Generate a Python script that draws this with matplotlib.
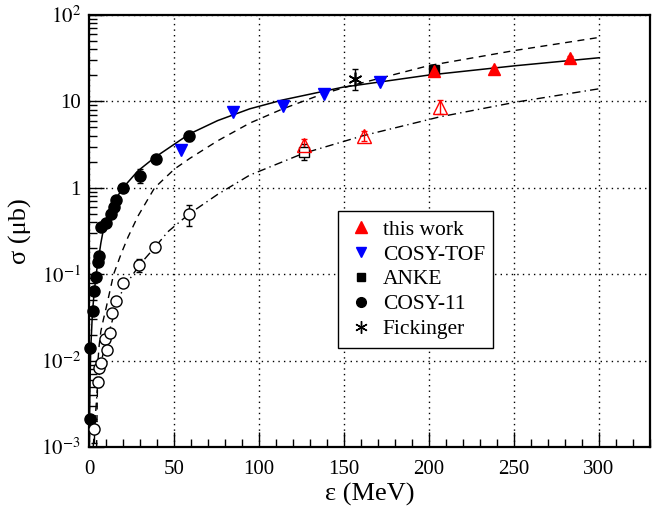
import numpy as np
import matplotlib
matplotlib.use("Agg")
import matplotlib.pyplot as plt
from matplotlib.ticker import FixedLocator, LogLocator, MultipleLocator, NullFormatter
from matplotlib.lines import Line2D

plt.rcParams['font.family'] = ['Liberation Serif', 'DejaVu Serif']
plt.rcParams['mathtext.fontset'] = 'stix'

# ---------------- data ----------------
# COSY-11 filled circles
c11_eps = [0.5, 0.6, 2.2, 3.1, 4.1, 5.1, 6.0, 6.9, 10.0, 12.7, 14.7, 16.0, 20.0, 29.8, 39.5, 59.1]
c11_sig = [0.0021, 0.014, 0.038, 0.064, 0.092, 0.137, 0.163, 0.35, 0.39, 0.50, 0.60, 0.72, 1.0, 1.38, 2.15, 4.0]
c11_err = [0.0002, 0.001, 0.003, 0.004, 0.006, 0.008, 0.01, 0.02, 0.02, 0.03, 0.04, 0.04, 0.06, 0.25, 0.2, 0.55]

# COSY-11 open circles
c11o_eps = [3.1, 5.1, 6.0, 7.0, 9.4, 10.4, 12.3, 13.5, 15.9, 19.8, 29.5, 38.8, 58.9]
c11o_sig = [0.0016, 0.0057, 0.0083, 0.0095, 0.0176, 0.0133, 0.0207, 0.036, 0.049, 0.080, 0.128, 0.205, 0.50]
c11o_err = [0.0005, 0.0008, 0.0008, 0.0008, 0.0012, 0.001, 0.0015, 0.003, 0.004, 0.009, 0.022, 0.025, 0.14]

# COSY-TOF
tof_eps = [54.4, 84.7, 114.0, 138.0, 170.9]
tof_sig = [2.75, 7.6, 8.9, 12.1, 16.9]

# this work (filled / open)
tw_eps = [203.2, 238.4, 283.0]
tw_sig = [22.6, 24.0, 31.7]
tw_err = [1.5, 1.2, 1.5]
two_eps = [126.4, 161.5, 206.5]
two_sig = [3.15, 4.0, 8.66]
two_err = [0.55, 0.5, 1.6]

# ANKE (filled / open)
anke_eps = [203.0]
anke_sig = [23.2]
anke_err = [2.5]
ankeo_eps = [126.4]
ankeo_sig = [2.63]
ankeo_err = [0.55]

# Fickinger
fick_eps = [156.2]
fick_sig = [18.1]
fick_err_lo = [4.5]
fick_err_hi = [5.6]

# curves
solid_eps = [0.2, 0.5, 1.0, 2.0, 3.0, 4.0, 5.0, 6.0, 7.0, 8.5, 10.2, 15.1, 20.0, 28.8, 38.6,
             59.1, 75.7, 94.5, 114.0, 149.3, 200.0, 251.0, 300.0]
solid_sig = [0.0012, 0.004, 0.013, 0.035, 0.06, 0.09, 0.13, 0.17, 0.23, 0.33, 0.44, 0.71, 1.0, 1.57, 2.24,
             4.2, 6.0, 8.2, 10.4, 14.6, 20.2, 25.9, 32.0]
dash_eps = [4.5, 4.75, 5.0, 5.3, 6.0, 7.0, 8.5, 10.0, 12.0, 14.5, 19.0, 23.0, 28.8, 38.6, 50.3, 59.3,
            75.7, 94.5, 114.0, 138.0, 153.0, 200.0, 251.0, 300.0]
dash_sig = [0.001, 0.0025, 0.005, 0.010, 0.0151, 0.0219, 0.030, 0.040, 0.060, 0.10, 0.174, 0.27, 0.47, 1.0,
            1.65, 2.19, 3.5, 5.6, 8.2, 12.3, 15.0, 26.0, 39.0, 55.0]
dd_eps = [2.5, 3.0, 5.0, 7.0, 10.0, 13.5, 16.0, 20.0, 30.0, 38.3, 46.4, 59.0, 75.7, 94.5, 126.0,
          161.0, 206.0, 251.0, 300.0]
dd_sig = [0.001, 0.0014, 0.005, 0.0095, 0.016, 0.028, 0.042, 0.068, 0.13, 0.20, 0.31, 0.50, 0.84, 1.40, 2.5,
          4.0, 6.6, 9.8, 14.0]

xticks = [0, 50, 100, 150, 200, 250, 300]
xtick_labels = ['0', '50', '100', '150', '200', '250', '300']
yticks = [1e-3, 1e-2, 1e-1, 1, 10, 100]
ytick_labels = [r'$10^{-3}$', r'$10^{-2}$', r'$10^{-1}$', '1', '10', r'$10^{2}$']

# ---------------- figure ----------------
fig = plt.figure(figsize=(6.71, 5.07), dpi=100)
ax = fig.add_axes([0.1326, 0.1183, 0.9687 - 0.1326, 0.9704 - 0.1183])
ax.set_yscale('log')
ax.set_xlim(0, 330)
ax.set_ylim(1e-3, 1e2)

ax.plot(solid_eps, solid_sig, '-', color='black', lw=1.1, zorder=2)
ax.plot(dash_eps, dash_sig, color='black', lw=1.0, ls=(0, (5, 4)), zorder=2)
ax.plot(dd_eps, dd_sig, color='black', lw=1.0, ls=(0, (6, 3, 1, 3)), zorder=2)

ekw = dict(capsize=2.5, elinewidth=1.0, capthick=1.0, clip_on=False, zorder=3)
ax.errorbar(c11_eps, c11_sig, yerr=c11_err, fmt='o', color='black', ms=8, **ekw)
ax.errorbar(c11o_eps, c11o_sig, yerr=c11o_err, fmt='o', color='black', mfc='white', mec='black',
            ms=8, mew=1.0, **ekw)
ax.plot(tof_eps, tof_sig, 'v', color='#0000ff', ms=8, ls='none', zorder=3)
ax.errorbar(anke_eps, anke_sig, yerr=anke_err, fmt='s', color='black', ms=7, **ekw)
ax.errorbar(ankeo_eps, ankeo_sig, yerr=ankeo_err, fmt='s', color='black', mfc='white', ms=7, mew=1.0, **ekw)
ax.errorbar(tw_eps, tw_sig, yerr=tw_err, fmt='^', color='#ff0000', ms=9, **ekw)
ax.errorbar(two_eps, two_sig, yerr=two_err, fmt='^', color='#ff0000', mfc='none', mec='#ff0000',
            ms=10, mew=1.0, **ekw)
ax.errorbar(fick_eps, fick_sig, yerr=[fick_err_lo, fick_err_hi], fmt='none', ecolor='black', **ekw)
ax.plot(fick_eps, fick_sig, marker=(6, 2, 0), color='black', ms=10, mew=1.2, ls='none', zorder=4)

# grid
ax.grid(True, which='major', ls=(0, (1, 3)), color='black', lw=1.0)

# ticks
ax.xaxis.set_major_locator(FixedLocator(xticks))
ax.set_xticklabels(xtick_labels)
ax.xaxis.set_minor_locator(MultipleLocator(10))
ax.yaxis.set_major_locator(FixedLocator(yticks))
ax.set_yticklabels(ytick_labels)
ax.yaxis.set_minor_locator(LogLocator(base=10, subs=np.arange(2, 10), numticks=20))
ax.yaxis.set_minor_formatter(NullFormatter())
ax.tick_params(which='major', direction='in', length=11, width=1.0, labelsize=15,
               top=False, right=False)
ax.tick_params(axis='x', which='major', pad=9)
ax.tick_params(axis='y', which='major', pad=6)
ax.tick_params(which='minor', direction='in', length=6, width=1.0, top=False, right=False)
for s in ax.spines.values():
    s.set_linewidth(1.6)

ax.set_xlabel('ε (MeV)', fontsize=19, labelpad=3)
ax.set_ylabel('σ (μb)', fontsize=19, labelpad=6)

# legend
handles = [
    Line2D([], [], marker='^', color='#ff0000', ls='none', ms=8),
    Line2D([], [], marker='v', color='#0000ff', ls='none', ms=7),
    Line2D([], [], marker='s', color='black', ls='none', ms=6),
    Line2D([], [], marker='o', color='black', ls='none', ms=7),
    Line2D([], [], marker=(6, 2, 0), color='black', ls='none', ms=9, mew=1.0),
]
labels = ['this work', 'COSY-TOF', 'ANKE', 'COSY-11', 'Fickinger']
leg = ax.legend(handles, labels, loc='upper left', bbox_to_anchor=(0.443, 0.546),
                fontsize=15.5, frameon=True, fancybox=False, edgecolor='black',
                framealpha=1.0, borderpad=0.4, labelspacing=0.22, handletextpad=0.3,
                handlelength=1.4, borderaxespad=0)
leg.get_frame().set_linewidth(1.0)

fig.savefig('out.png', dpi=100)
